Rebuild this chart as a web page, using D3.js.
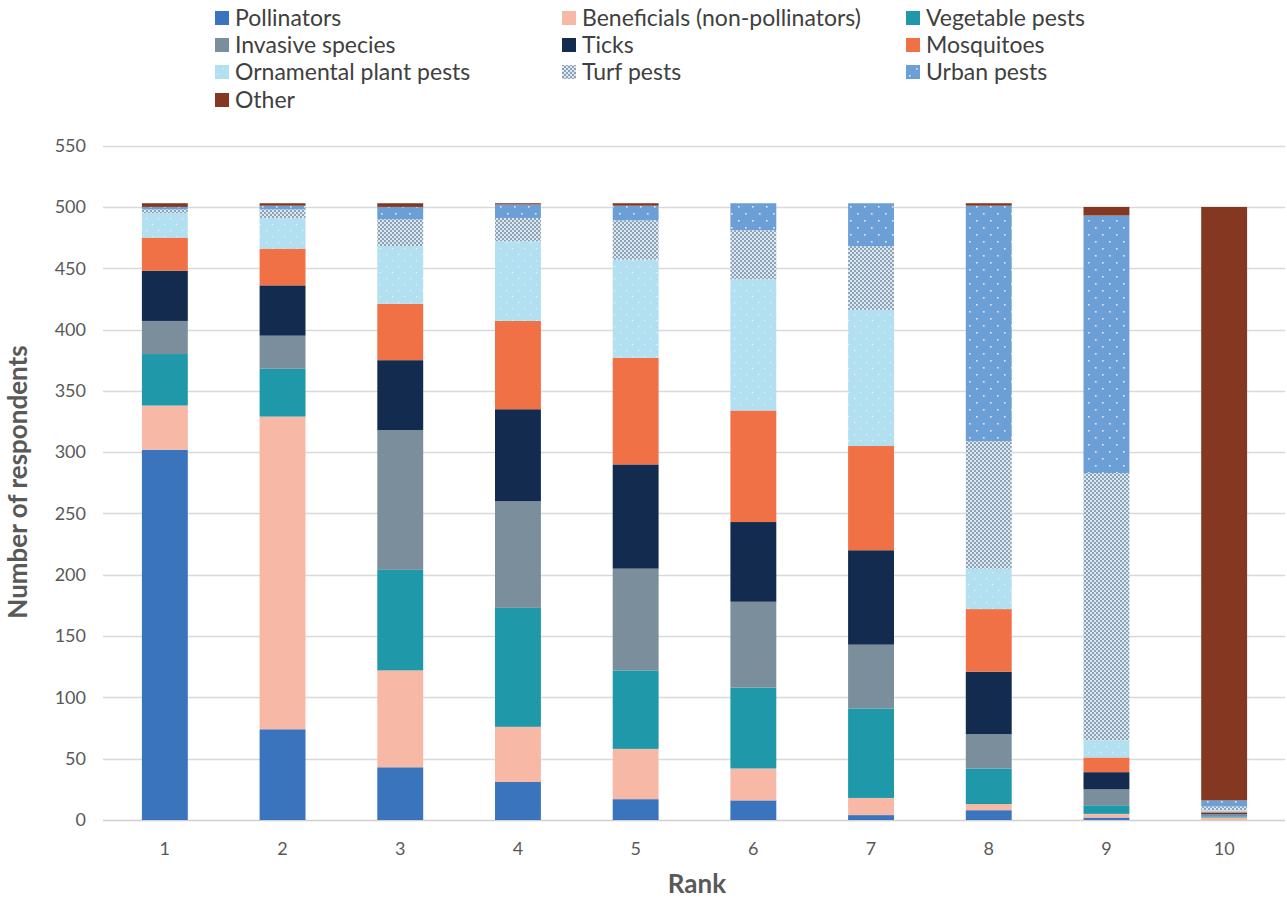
<!DOCTYPE html>
<html>
<head>
<meta charset="utf-8">
<script src="https://cdn.jsdelivr.net/npm/d3@7"></script>
<style>
  html, body { margin: 0; padding: 0; background: #fff; }
  svg { display: block; font-family: Lato, "Open Sans", sans-serif; }
</style>
</head>
<body>
<svg id="chart" width="1287" height="900"></svg>
<script>
const ranks = ["1","2","3","4","5","6","7","8","9","10"];
const seriesNames = ["Pollinators","Beneficials (non-pollinators)","Vegetable pests","Invasive species","Ticks","Mosquitoes","Ornamental plant pests","Turf pests","Urban pests","Other"];
const pollinators = [302, 74, 43, 31, 17, 16, 4, 8, 2, 0];
const beneficials = [36, 255, 79, 45, 41, 26, 14, 5, 3, 2];
const vegetablePests = [42, 39, 82, 97, 64, 66, 73, 29, 7, 1];
const invasiveSpecies = [27, 27, 114, 87, 83, 70, 52, 28, 13, 2];
const ticks = [41, 41, 57, 75, 85, 65, 77, 51, 14, 1];
const mosquitoes = [27, 30, 46, 72, 87, 91, 85, 51, 12, 1];
const ornamentalPests = [20, 25, 47, 65, 80, 107, 111, 33, 14, 1];
const turfPests = [3, 7, 22, 19, 32, 40, 52, 104, 218, 3];
const urbanPests = [2, 3, 10, 11, 12, 22, 35, 192, 210, 5];
const other = [3, 2, 3, 1, 2, 0, 0, 2, 7, 484];
const yTicks = [0, 50, 100, 150, 200, 250, 300, 350, 400, 450, 500, 550];

const seriesValues = [pollinators, beneficials, vegetablePests, invasiveSpecies, ticks, mosquitoes, ornamentalPests, turfPests, urbanPests, other];
const fills = ["#3a74bd", "#f7b9a6", "#1f98aa", "#7a8e9b", "#122b4f", "#f07145", "url(#pOrn)", "url(#pTurf)", "url(#pUrban)", "#843721"];
const legendFills = ["#3a74bd", "#f7b9a6", "#1f98aa", "#7a8e9b", "#122b4f", "#f07145", "url(#pOrnL)", "url(#pTurfL)", "url(#pUrbanL)", "#843721"];

const table = ranks.map((r, i) => {
  const row = { rank: r };
  seriesNames.forEach((s, j) => row[s] = seriesValues[j][i]);
  return row;
});

const svg = d3.select("#chart");
const defs = svg.append("defs");

function ornPattern(id) {
  const p = defs.append("pattern").attr("id", id).attr("patternUnits", "userSpaceOnUse").attr("width", 12).attr("height", 12);
  p.append("rect").attr("width", 12).attr("height", 12).attr("fill", "#b2e0f1");
  p.append("rect").attr("x", 2).attr("y", 2).attr("width", 1.2).attr("height", 1.2).attr("fill", "#e4f4fb");
  p.append("rect").attr("x", 8).attr("y", 8).attr("width", 1.2).attr("height", 1.2).attr("fill", "#e4f4fb");
}
function turfPattern(id) {
  const p = defs.append("pattern").attr("id", id).attr("patternUnits", "userSpaceOnUse").attr("width", 4).attr("height", 4);
  p.append("rect").attr("width", 4).attr("height", 4).attr("fill", "#dfe7ee");
  p.append("rect").attr("x", 0).attr("y", 0).attr("width", 2).attr("height", 2).attr("fill", "#8aa3b8");
  p.append("rect").attr("x", 2).attr("y", 2).attr("width", 2).attr("height", 2).attr("fill", "#8aa3b8");
}
function urbanPattern(id) {
  const p = defs.append("pattern").attr("id", id).attr("patternUnits", "userSpaceOnUse").attr("width", 14).attr("height", 14);
  p.append("rect").attr("width", 14).attr("height", 14).attr("fill", "#6b9fd6");
  p.append("rect").attr("x", 3).attr("y", 3).attr("width", 1.6).attr("height", 1.6).attr("fill", "#dceafa");
  p.append("rect").attr("x", 10).attr("y", 10).attr("width", 1.6).attr("height", 1.6).attr("fill", "#dceafa");
}
ornPattern("pOrn"); turfPattern("pTurf"); urbanPattern("pUrban");
ornPattern("pOrnL"); turfPattern("pTurfL"); urbanPattern("pUrbanL");

const x = d3.scaleBand().domain(ranks).range([106, 1283]).paddingInner(0.61).paddingOuter(0.305);
const y = d3.scaleLinear().domain([0, 550]).range([820, 145.6]);

svg.append("g").selectAll("line").data(yTicks).join("line")
  .attr("x1", 103).attr("x2", 1285)
  .attr("y1", d => Math.round(y(d)) + 0.5).attr("y2", d => Math.round(y(d)) + 0.5)
  .attr("stroke", d => d === 0 ? "#cfcfcf" : "#d9d9d9").attr("stroke-width", 1.3);

svg.append("g").selectAll("text").data(yTicks).join("text")
  .attr("x", 86).attr("y", d => y(d)).attr("dy", "0.35em")
  .attr("text-anchor", "end").attr("fill", "#595959").attr("font-size", 18)
  .text(d => d);

svg.append("g").selectAll("text").data(ranks).join("text")
  .attr("x", d => x(d) + x.bandwidth() / 2).attr("y", 849).attr("dy", "0.35em")
  .attr("text-anchor", "middle").attr("fill", "#595959").attr("font-size", 18)
  .text(d => d);

const stack = d3.stack().keys(seriesNames)(table);
svg.append("g").selectAll("g").data(stack).join("g")
  .attr("fill", (d, i) => fills[i])
  .selectAll("rect").data(d => d).join("rect")
  .attr("x", d => x(d.data.rank))
  .attr("width", x.bandwidth())
  .attr("y", d => y(d[1]))
  .attr("height", d => Math.max(0, y(d[0]) - y(d[1])));

svg.append("text").attr("x", 697).attr("y", 884).attr("dy", "0.35em")
  .attr("text-anchor", "middle").attr("font-size", 26).attr("font-weight", "bold").attr("fill", "#595959")
  .text("Rank");
svg.append("text").attr("transform", "translate(18,482) rotate(-90)").attr("dy", "0.35em")
  .attr("text-anchor", "middle").attr("font-size", 26).attr("font-weight", "bold").attr("fill", "#595959")
  .text("Number of respondents");

const colX = [215, 562, 906];
const rowY = [18, 45, 72, 100];
const leg = svg.append("g").selectAll("g").data(seriesNames).join("g")
  .attr("transform", (d, i) => `translate(${colX[i % 3]},${rowY[Math.floor(i / 3)]})`);
leg.append("rect").attr("x", 0).attr("y", -7).attr("width", 14).attr("height", 14)
  .attr("fill", (d, i) => legendFills[i]);
leg.append("text").attr("x", 20).attr("y", 0).attr("dy", "0.35em")
  .attr("font-size", 23).attr("fill", "#404040").text(d => d);
</script>
</body>
</html>
